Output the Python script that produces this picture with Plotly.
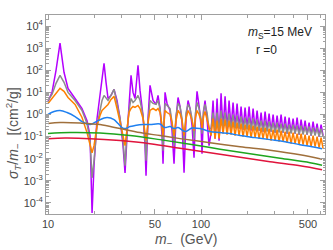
import plotly.graph_objects as go

# ---------------- data ----------------
# common mass grid for the resonant curves (GeV)
m_res = [10.0, 10.62, 11.28, 11.98, 12.72, 13.51, 15.02, 16.68, 17.98, 18.82,
         19.40, 19.98, 20.91, 21.87, 22.54, 23.23, 23.94, 24.67, 25.81, 27.01,
         28.25, 29.56, 30.92, 31.87, 32.84, 33.84, 34.88, 35.94, 37.03, 38.74,
         39.93, 41.77, 43.05, 43.70, 45.04, 46.42, 48.56, 50.80, 52.36, 53.96,
         55.61, 56.45, 57.31, 58.18, 59.96, 62.72, 64.64, 66.61, 68.65, 70.75,
         72.91, 75.14, 77.44, 79.80, 82.24, 84.76, 87.35, 90.01, 92.05, 94.17,
         97.03, 100.0, 101.5, 103.8, 106.2, 109.4, 112.8,
         116.3, 119.8, 123.5, 127.3, 131.2, 135.2, 139.3, 143.6, 148.0, 152.5,
         157.1, 161.9, 166.9, 172.0, 177.3, 182.7, 188.3, 194.0, 200.0, 206.1,
         212.4, 218.9, 225.6, 232.5, 239.6, 246.9, 254.4, 262.2, 270.2, 278.5,
         287.0, 295.8, 304.8, 314.1, 323.7, 333.6, 343.8, 354.3, 365.1, 376.3,
         387.8, 399.6, 411.8, 424.4, 437.4, 450.7, 464.5, 478.7, 493.3, 508.4,
         523.9, 539.9, 556.4, 573.4, 590.9, 609.0, 627.6]

sigma_purple = [3.9, 10, 100, 1690, 81, 15.2, 5.3, 1.87, 0.53, 0.111,
                3.5e-5, 0.0048, 0.66, 6.6, 35, 208, 28.5, 5.3, 7.3, 13.7,
                4.3, 0.66, 0.039, 0.0023, 0.111, 4.3, 59, 10, 5.3, 169,
                12.3, 0.90, 0.039, 0.0017, 0.66, 20.8, 4.3, 2.85, 7.3, 1.87,
                0.111, 0.0059, 0.316, 10, 3.16, 1.52, 0.187, 0.0059, 0.66, 5.9,
                2.31, 0.43, 0.0023, 0.66, 4.3, 1.87, 0.316, 0.0111, 0.90, 11.1,
                2.56, 0.316, 0.0169, 1.23, 4.3, 0.66, 0.039,
                0.152, 4.3, 0.081, 5.3, 0.066, 9.0, 0.187, 6.6, 0.187, 4.3,
                0.23, 3.5, 0.256, 3.16, 0.23, 2.31, 0.208, 2.08, 0.23, 2.31,
                0.187, 1.87, 0.208, 1.52, 0.187, 1.23, 0.169, 1.37, 0.187, 1.11,
                0.169, 1.0, 0.152, 0.90, 0.169, 1.0, 0.152, 0.81, 0.137, 0.73,
                0.152, 0.66, 0.137, 0.73, 0.123, 0.59, 0.137, 0.53, 0.123, 0.43,
                0.111, 0.48, 0.123, 0.39, 0.1, 0.35, 0.111]

sigma_gray = [4.3, 8.1, 25.7, 59, 28.5, 10, 4.3, 1.52, 0.39, 0.066,
              1.37e-3, 0.0081, 0.316, 1.87, 4.3, 7.3, 5.9, 4.3, 7.3, 13.7,
              3.16, 0.66, 0.066, 0.0048, 0.187, 1.52, 5.3, 3.5, 4.3, 7.3,
              4.3, 0.90, 0.066, 0.0081, 0.53, 4.3, 3.16, 2.85, 4.3, 1.87,
              0.23, 0.023, 0.53, 3.16, 2.56, 1.87, 0.43, 0.039, 0.90, 3.16,
              2.31, 0.66, 0.039, 1.23, 2.85, 1.87, 0.66, 0.081, 1.23, 3.5,
              1.87, 0.66, 0.137, 1.52, 2.85, 1.23, 0.23,
              0.23, 1.23, 0.187, 1.23, 0.187, 1.52, 0.256, 1.23, 0.256, 1.11,
              0.23, 1.0, 0.23, 0.90, 0.23, 0.81, 0.208, 0.73, 0.208, 0.73,
              0.208, 0.66, 0.187, 0.59, 0.187, 0.53, 0.169, 0.53, 0.169, 0.48,
              0.169, 0.43, 0.152, 0.43, 0.152, 0.39, 0.152, 0.39, 0.137, 0.35,
              0.137, 0.35, 0.137, 0.316, 0.123, 0.316, 0.123, 0.285, 0.123, 0.285,
              0.111, 0.256, 0.111, 0.256, 0.1, 0.23, 0.1]

sigma_orange = [3.16, 5.3, 10, 15.2, 11.1, 5.9, 2.85, 0.73, 0.152, 0.039,
                0.0187, 0.039, 0.316, 0.90, 1.52, 1.87, 2.31, 2.85, 4.8, 6.6,
                1.87, 0.53, 0.111, 0.039, 0.316, 1.23, 1.87, 2.31, 2.08, 2.56,
                1.87, 0.66, 0.152, 0.066, 0.43, 1.52, 1.87, 1.52, 1.87, 1.23,
                0.316, 0.111, 0.43, 1.52, 1.23, 1.0, 0.43, 0.111, 0.53, 1.52,
                1.11, 0.53, 0.111, 0.66, 1.52, 1.0, 0.53, 0.187, 0.73, 1.52,
                1.0, 0.53, 0.23, 0.81, 1.37, 0.66, 0.285,
                0.111, 0.66, 0.081, 0.53, 0.081, 0.66, 0.137, 0.59, 0.123, 0.53,
                0.123, 0.48, 0.111, 0.43, 0.111, 0.39, 0.1, 0.35, 0.1, 0.35,
                0.09, 0.316, 0.09, 0.285, 0.081, 0.256, 0.081, 0.256, 0.073, 0.23,
                0.066, 0.208, 0.066, 0.208, 0.059, 0.187, 0.059, 0.169, 0.053, 0.169,
                0.048, 0.152, 0.048, 0.137, 0.043, 0.137, 0.043, 0.123, 0.039, 0.111,
                0.035, 0.111, 0.035, 0.1, 0.0316, 0.09, 0.0285]

m_blue = [10.0, 10.95, 11.98, 13.31, 15.02, 16.68, 18.82, 21.22, 24.30, 27.01,
          28.68, 30.46, 31.87, 34.35, 37.03, 41.77, 46.42, 53.96, 56.45, 58.18,
          62.72, 66.61, 70.75, 78.6, 87.35, 98.5, 114.5, 133.1, 154.7, 180.0,
          225.4, 282.5, 354.0, 443.7, 531.6, 617.9]
sigma_blue = [1.0, 1.37, 1.52, 1.23, 0.81, 0.48, 0.35, 0.53, 0.73, 0.59,
              0.39, 0.256, 0.23, 0.285, 0.316, 0.35, 0.35, 0.37, 0.285, 0.256,
              0.285, 0.23, 0.256, 0.169, 0.243, 0.23, 0.169, 0.152, 0.137, 0.111,
              0.09, 0.073, 0.059, 0.043, 0.035, 0.0285]

m_brown = [10.0, 11.98, 16.19, 21.87, 29.56, 39.93, 53.96, 72.91, 114.5, 180.0,
           282.5, 443.7, 617.9]
sigma_brown = [0.39, 0.43, 0.41, 0.35, 0.23, 0.152, 0.111, 0.081, 0.053, 0.035,
               0.0243, 0.0152, 0.0095]

m_green = [10.0, 13.93, 21.87, 34.35, 53.96, 84.76, 133.1, 209.1, 328.4, 515.6, 617.9]
sigma_green = [0.137, 0.152, 0.144, 0.111, 0.073, 0.0456, 0.027, 0.0169, 0.0105,
               0.0066, 0.0051]

m_red = [10.0, 12.91, 18.82, 29.56, 46.42, 72.91, 114.5, 180.0, 282.5, 443.7, 617.9]
sigma_red = [0.081, 0.0855, 0.081, 0.066, 0.048, 0.030, 0.0187, 0.0117, 0.0073,
             0.0048, 0.0032]

x_major = [10, 50, 100, 500]
x_major_text = ["10", "50", "100", "500"]
x_minor = [20, 30, 40, 60, 70, 80, 90, 200, 300, 400, 600]
y_exps = [-4, -3, -2, -1, 0, 1, 2, 3, 4]

# ---------------- figure ----------------
fig = go.Figure()

series = [
    (m_res, sigma_purple, "#b400ff", "linear"),
    (m_res, sigma_gray, "#8c8c8c", "linear"),
    (m_res, sigma_orange, "#ff8000", "linear"),
    (m_blue, sigma_blue, "#1f80f0", "spline"),
    (m_brown, sigma_brown, "#a0703c", "spline"),
    (m_green, sigma_green, "#1ea51e", "spline"),
    (m_red, sigma_red, "#e0143c", "spline"),
]
for xs, ys, col, shape in series:
    fig.add_trace(go.Scatter(x=xs, y=ys, mode="lines",
                             line=dict(color=col, width=1.5, shape=shape),
                             showlegend=False, hoverinfo="skip"))

y_major = [10.0 ** e for e in y_exps]
y_major_text = ["10<sup>%d</sup>" % e for e in y_exps]
y_minor = [k * 10.0 ** e for e in range(-5, 5) for k in range(2, 10)
           if 10 ** -4.5 < k * 10.0 ** e < 10 ** 4.5]

frame = "#a0a0a0"
tickfont = dict(family="Liberation Sans, Arial, sans-serif", size=11, color="#444444")

fig.update_xaxes(type="log", range=[0.9868, 2.8102],
                 tickmode="array", tickvals=x_major, ticktext=x_major_text,
                 ticks="inside", ticklen=5, tickwidth=1, tickcolor=frame,
                 showline=True, linecolor=frame, linewidth=1, mirror="ticks",
                 showgrid=False, zeroline=False, tickfont=tickfont,
                 minor=dict(tickmode="array", tickvals=x_minor, ticks="inside",
                            ticklen=3, tickcolor=frame, showgrid=False))
fig.update_yaxes(type="log", range=[-4.5, 4.5],
                 tickmode="array", tickvals=y_major, ticktext=y_major_text,
                 ticks="inside", ticklen=5, tickwidth=1, tickcolor=frame,
                 showline=True, linecolor=frame, linewidth=1, mirror="ticks",
                 showgrid=False, zeroline=False, tickfont=tickfont,
                 minor=dict(tickmode="array", tickvals=y_minor, ticks="inside",
                            ticklen=2.5, tickcolor=frame, showgrid=False))

lab = dict(family="Liberation Sans, Arial, sans-serif", size=14, color="#555555")
fig.update_layout(
    width=333, height=250,
    margin=dict(l=46, r=8, t=15, b=36),
    paper_bgcolor="white", plot_bgcolor="white",
    annotations=[
        dict(text="<i>m</i><sub>S</sub>=15 MeV", xref="paper", yref="paper",
             x=0.717, y=0.9095, xanchor="left", yanchor="middle", showarrow=False,
             font=dict(family="Liberation Sans, Arial, sans-serif", size=12, color="#222222")),
        dict(text="r =0", xref="paper", yref="paper",
             x=0.746, y=0.824, xanchor="left", yanchor="middle", showarrow=False,
             font=dict(family="Liberation Sans, Arial, sans-serif", size=12, color="#222222")),
        dict(text="<i>σ</i><sub><i>T</i></sub>/<i>m</i><sub>−</sub>  [(cm<sup>2</sup>/g]",
             xref="paper", yref="paper", x=-0.118, y=0.407, textangle=-90,
             xanchor="center", yanchor="middle", showarrow=False, font=lab),
        dict(text="<i>m</i><sub>−</sub>  (GeV)", xref="paper", yref="paper",
             x=0.505, y=-0.131, xanchor="center", yanchor="middle",
             showarrow=False, font=lab),
    ],
)

fig.write_html("out.html", config={"displayModeBar": False},
               post_script="document.body.style.margin='0px';document.body.style.overflow='hidden';")
